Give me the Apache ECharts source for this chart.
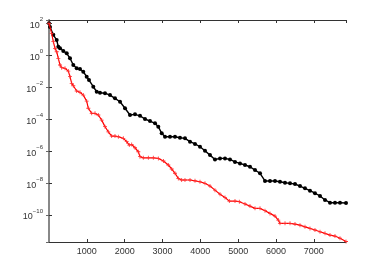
<!DOCTYPE html>
<html>
<head>
<meta charset="utf-8">
<script src="https://cdn.jsdelivr.net/npm/echarts@6/dist/echarts.min.js"></script>
<style>
html,body{margin:0;padding:0;background:#fff;}
#chart{width:382px;height:273px;}
</style>
</head>
<body>
<div id="chart"></div>
<script>
// iteration counts and residual values
var blackIter = [0,26,114,204,246,291,378,468,555,642,732,819,906,996,1057,1171,1261,1348,1480,1612,1744,1877,2009,2141,2273,2405,2537,2669,2802,2889,2979,3066,3198,3330,3462,3594,3727,3859,3991,4123,4255,4387,4520,4652,4784,4916,5048,5180,5312,5445,5577,5709,5841,5973,6105,6238,6370,6502,6634,6766,6898,7030,7163,7295,7427,7559,7691,7850];
var blackVal = [1e2,5.9e1,1.9e1,8.9,3.4,2.7,1.86,1.32,0.65,0.245,0.152,0.138,0.093,0.0457,0.0282,0.0107,5.2e-3,4.5e-3,4.2e-3,3.2e-3,2.0e-3,1.23e-3,4.8e-4,1.82e-4,2.0e-4,1.62e-4,1.02e-4,7.6e-5,5.5e-5,3.4e-5,1.29e-5,7.9e-6,7.9e-6,7.9e-6,6.9e-6,6.3e-6,3.9e-6,2.8e-6,1.87e-6,1.05e-6,5.6e-7,3.0e-7,3.5e-7,3.5e-7,3.0e-7,2.1e-7,1.7e-7,1.35e-7,1.05e-7,6.5e-8,4.1e-8,1.35e-8,1.35e-8,1.35e-8,1.2e-8,1.05e-8,9.6e-9,8.7e-9,6.5e-9,4.7e-9,3.3e-9,2.3e-9,1.55e-9,8.7e-10,5.9e-10,5.9e-10,5.9e-10,5.6e-10];

var redIter = [0,71,114,159,204,246,291,336,423,510,555,600,642,732,819,906,996,1039,1129,1216,1303,1393,1480,1567,1657,1744,1832,1964,2054,2122,2186,2273,2360,2405,2492,2625,2757,2889,3024,3153,3243,3330,3417,3507,3594,3727,3859,3991,4123,4255,4387,4520,4652,4766,4916,5030,5180,5312,5445,5577,5709,5841,5973,6060,6105,6238,6370,6502,6634,6766,6898,7030,7163,7295,7427,7559,7691,7850];
var redVal = [1e2,23.6,7.1,2.7,1.66,0.64,0.245,0.166,0.152,0.102,0.0457,0.0174,0.0123,5.8e-3,4.8e-3,3.2e-3,1.35e-3,4.8e-4,2.3e-4,2.3e-4,1.82e-4,8.7e-5,3.4e-5,1.62e-5,8.7e-6,8.7e-6,7.9e-6,6.3e-6,3.9e-6,2.4e-6,2.6e-6,1.62e-6,9.1e-7,4.5e-7,3.8e-7,3.8e-7,3.8e-7,3.5e-7,2.4e-7,1.35e-7,7.6e-8,4.1e-8,1.95e-8,1.55e-8,1.55e-8,1.55e-8,1.38e-8,1.2e-8,9.6e-9,6.5e-9,3.6e-9,2.0e-9,1.26e-9,7.4e-10,7.4e-10,6.8e-10,4.9e-10,3.6e-10,2.6e-10,2.6e-10,1.86e-10,1.26e-10,8.5e-11,4.8e-11,3.0e-11,3.0e-11,3.0e-11,2.7e-11,2.3e-11,1.82e-11,1.45e-11,1.15e-11,8.9e-12,7.1e-12,5.5e-12,4.8e-12,3.5e-12,2.2e-12];

var xMin = 0, xMax = 7850, xStep = 1000;
var yMin = 2.04e-12, yMax = 161;

function pairs(xs, ys) { return xs.map(function (x, i) { return [x, ys[i]]; }); }

var font = 'Liberation Sans, Arial, sans-serif';
var chart = echarts.init(document.getElementById('chart'), null, {renderer: 'canvas'});

function powLabel(v) {
  var e = Math.round(Math.log10(v));
  var s = e < 0 ? '\u2212' + (-e) : String(e);
  return '{b|10}{s|' + s + '}';
}

chart.setOption({
  animation: false,
  backgroundColor: '#fff',
  grid: {left: 49, top: 20, right: 36, bottom: 31},
  xAxis: [{
    type: 'value', min: xMin, max: xMax, interval: xStep,
    axisLine: {lineStyle: {color: '#333', width: 1}},
    axisTick: {inside: true, length: 3, lineStyle: {color: '#333'}},
    axisLabel: {showMinLabel: false, showMaxLabel: false, margin: 5, color: '#333', fontSize: 9, fontFamily: font,
      formatter: function (v) { return String(v); }},
    splitLine: {show: false}
  }, {
    type: 'value', position: 'top', min: xMin, max: xMax, interval: xStep,
    axisLine: {lineStyle: {color: '#333', width: 1}},
    axisTick: {inside: true, length: 3, lineStyle: {color: '#333'}},
    axisLabel: {show: false},
    splitLine: {show: false}
  }],
  yAxis: [{
    type: 'log', logBase: 100, min: yMin, max: yMax,
    axisLine: {show: true, lineStyle: {color: '#333', width: 1}},
    axisTick: {show: true, inside: true, length: 3, lineStyle: {color: '#333'}},
    axisLabel: {
      showMinLabel: false, showMaxLabel: false, margin: 6,
      formatter: powLabel,
      rich: {
        b: {fontSize: 9, color: '#333', fontFamily: font, lineHeight: 13, verticalAlign: 'bottom'},
        s: {fontSize: 6, color: '#333', fontFamily: font, lineHeight: 13, verticalAlign: 'top'}
      }
    },
    splitLine: {show: false}
  }, {
    type: 'log', logBase: 100, min: yMin, max: yMax, position: 'right',
    axisLine: {show: true, lineStyle: {color: '#888', width: 2}},
    axisTick: {show: true, inside: true, length: 3, lineStyle: {color: '#666'}},
    axisLabel: {show: false},
    splitLine: {show: false}
  }],
  series: [{
    type: 'line', name: 'black', xAxisIndex: 0, yAxisIndex: 0,
    data: pairs(blackIter, blackVal),
    showAllSymbol: true, symbol: 'circle', symbolSize: 4,
    lineStyle: {color: '#000', width: 1.4},
    itemStyle: {color: '#000'},
    z: 3
  }, {
    type: 'line', name: 'red', xAxisIndex: 0, yAxisIndex: 0,
    data: pairs(redIter, redVal),
    showAllSymbol: true,
    symbol: 'path://M4,0H6V4H10V6H6V10H4V6H0V4H4Z', symbolSize: 4,
    lineStyle: {color: '#ff0000', width: 1.2},
    itemStyle: {color: '#ff3030'},
    z: 4
  }]
});
</script>
</body>
</html>
